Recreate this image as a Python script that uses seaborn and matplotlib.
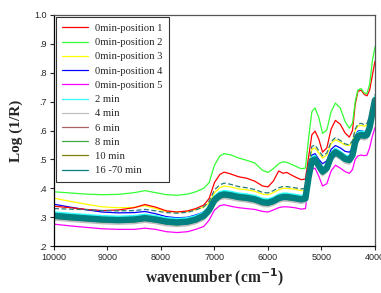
import numpy as np
import pandas as pd
import seaborn as sns
import matplotlib.pyplot as plt
from matplotlib.lines import Line2D

wavenumber = [10000, 9700, 9400, 9100, 8800, 8500, 8300, 8100, 7900, 7700,
              7500, 7350, 7200, 7100, 7000, 6900, 6820, 6700, 6550, 6400,
              6250, 6100, 6000, 5900, 5800, 5720, 5650, 5500, 5380, 5300,
              5240, 5180, 5120, 5050, 4980, 4900, 4820, 4740, 4650, 4560,
              4480, 4420, 4370, 4320, 4260, 4200, 4150, 4100, 4050, 4000]

pos1 = [.338, .333, .327, .323, .325, .333, .344, .335, .322, .318,
        .322, .330, .342, .365, .420, .448, .456, .450, .440, .435,
        .425, .408, .405, .425, .460, .452, .455, .440, .430, .432,
        .510, .585, .598, .570, .525, .540, .605, .635, .622, .592,
        .577, .600, .690, .735, .740, .725, .720, .740, .790, .840]
pos2 = [.388, .384, .380, .378, .379, .385, .392, .385, .378, .376,
        .380, .388, .400, .420, .480, .512, .520, .516, .505, .497,
        .488, .462, .455, .468, .485, .492, .490, .478, .468, .470,
        .575, .665, .678, .645, .590, .602, .665, .695, .678, .632,
        .608, .625, .700, .740, .745, .730, .728, .760, .840, .890]
pos3 = [.366, .355, .345, .336, .333, .334, .340, .330, .320, .318,
        .320, .326, .335, .350, .385, .402, .408, .405, .398, .395,
        .390, .380, .378, .385, .395, .400, .400, .397, .392, .395,
        .470, .535, .540, .522, .505, .515, .555, .568, .560, .550,
        .548, .560, .600, .615, .618, .615, .618, .640, .680, .713]
pos4 = [.345, .335, .326, .318, .315, .316, .320, .312, .302, .298,
        .300, .308, .318, .335, .370, .385, .390, .387, .380, .377,
        .372, .362, .360, .366, .377, .380, .380, .376, .372, .375,
        .450, .515, .520, .500, .485, .495, .535, .548, .540, .528,
        .525, .538, .580, .598, .600, .596, .600, .625, .670, .705]
pos5 = [.276, .270, .265, .260, .258, .258, .262, .258, .250, .247,
        .250, .258, .268, .290, .325, .340, .343, .338, .333, .330,
        .327, .320, .318, .325, .333, .336, .336, .333, .328, .330,
        .410, .465, .470, .442, .408, .416, .460, .480, .470, .458,
        .452, .465, .500, .512, .515, .513, .515, .540, .580, .610]
min2 = [.317, .312, .308, .304, .302, .304, .309, .304, .297, .294,
        .297, .304, .317, .337, .372, .387, .391, .388, .382, .379,
        .374, .364, .362, .368, .378, .382, .382, .378, .374, .377,
        .452, .507, .512, .490, .470, .482, .522, .537, .527, .514,
        .510, .527, .572, .592, .597, .594, .597, .622, .672, .717]
min4 = [.292, .287, .283, .279, .277, .279, .284, .279, .272, .269,
        .272, .279, .292, .312, .347, .362, .366, .363, .357, .354,
        .349, .339, .337, .343, .353, .357, .357, .353, .349, .352,
        .427, .482, .487, .465, .445, .457, .497, .512, .502, .489,
        .485, .502, .547, .567, .572, .569, .572, .597, .647, .692]
min6 = [.310, .305, .301, .297, .295, .297, .302, .297, .290, .287,
        .290, .297, .310, .330, .365, .380, .384, .381, .375, .372,
        .367, .357, .355, .361, .371, .375, .375, .371, .367, .370,
        .445, .500, .505, .483, .463, .475, .515, .530, .520, .507,
        .503, .520, .565, .585, .590, .587, .590, .615, .665, .710]
min8 = [.301, .296, .292, .288, .286, .288, .293, .288, .281, .278,
        .281, .288, .301, .321, .356, .371, .375, .372, .366, .363,
        .358, .348, .346, .352, .362, .366, .366, .362, .358, .361,
        .436, .491, .496, .474, .454, .466, .506, .521, .511, .498,
        .494, .511, .556, .576, .581, .578, .581, .606, .656, .701]
min10 = [.297, .292, .288, .284, .282, .284, .289, .284, .277, .274,
         .277, .284, .297, .317, .352, .367, .371, .368, .362, .359,
         .354, .344, .342, .348, .358, .362, .362, .358, .354, .357,
         .432, .487, .492, .470, .450, .462, .502, .517, .507, .494,
         .490, .507, .552, .572, .577, .574, .577, .602, .652, .697]
min16_70 = [.305, .300, .296, .292, .290, .292, .297, .292, .285, .282,
            .285, .292, .305, .325, .360, .375, .379, .376, .370, .367,
            .362, .352, .350, .356, .366, .370, .370, .366, .362, .365,
            .440, .495, .500, .478, .458, .470, .510, .525, .515, .502,
            .498, .515, .560, .580, .585, .582, .585, .610, .660, .705]
min16_70_upper = [.330, .328, .326, .323, .322, .323, .327, .322, .316, .314,
                  .317, .325, .336, .355, .395, .412, .418, .414, .406, .402,
                  .396, .386, .384, .392, .402, .406, .406, .402, .398, .400,
                  .480, .545, .550, .530, .512, .522, .562, .575, .566, .554,
                  .550, .565, .605, .622, .625, .620, .625, .650, .690, .725]

labels = ['0min-position 1', '0min-position 2', '0min-position 3', '0min-position 4',
          '0min-position 5', '2 min', '4 min', '6 min', '8 min', '10 min', '16 -70 min']
colors = ['#ff0000', '#33ff33', '#ffff00', '#0000ff', '#ff00ff', '#33ffff',
          '#c0c0c0', '#a86464', '#44aa44', '#808000', '#008080']

sns.set_style('ticks')
plt.rcParams['font.family'] = ['Liberation Sans', 'DejaVu Sans']

fig = plt.figure(figsize=(3.81, 2.93), dpi=100)
ax = fig.add_axes([0.1417, 0.160, 0.8425, 0.789])

x = np.array(wavenumber)
for y, c in [(pos3, colors[2]), (pos4, colors[3]), (pos1, colors[0]),
             (pos2, colors[1]), (pos5, colors[4])]:
    sns.lineplot(x=x, y=y, color=c, lw=0.9, ax=ax, sort=False)
sns.lineplot(x=x, y=min2, color=colors[5], lw=1.6, ax=ax, sort=False)
sns.lineplot(x=x, y=min4, color=colors[6], lw=1.6, ax=ax, sort=False)
sns.lineplot(x=x, y=min6, color=colors[7], lw=0.9, ax=ax, sort=False)
sns.lineplot(x=x, y=min8, color=colors[8], lw=0.9, ax=ax, sort=False)
sns.lineplot(x=x, y=min10, color=colors[9], lw=0.9, ax=ax, sort=False)
sns.lineplot(x=x, y=min16_70, color=colors[10], lw=4.6, ax=ax, sort=False)
ax.plot(x, min16_70_upper, color='#2a7a7a', lw=0.9, ls=(0, (4, 2)))

ax.set_xlim(10000, 4000)
ax.set_ylim(0.2, 1.0)
ax.set_xticks([10000, 9000, 8000, 7000, 6000, 5000, 4000])
ax.set_xticklabels(['10000', '9000', '8000', '7000', '6000', '5000', '4000'])
yt = [0.2, 0.3, 0.4, 0.5, 0.6, 0.7, 0.8, 0.9, 1.0]
ax.set_yticks(yt)
ax.set_yticklabels(['.2', '.3', '.4', '.5', '.6', '.7', '.8', '.9', '1.0'])
ax.tick_params(labelsize=6.5, length=3, width=0.8, direction='out', pad=2)
for s in ['left', 'bottom']:
    ax.spines[s].set_color('black')
    ax.spines[s].set_linewidth(0.9)
for s in ['top', 'right']:
    ax.spines[s].set_color('#555555')
    ax.spines[s].set_linewidth(0.9)

serif = ['Liberation Serif', 'DejaVu Serif']
ax.set_xlabel('wavenumber (cm$^{\\mathbf{-1}}$)', fontsize=11.2, fontweight='bold',
              family=serif, labelpad=3)
ax.set_ylabel('Log (1/R)', fontsize=11, fontweight='bold', family=serif, labelpad=8)

handles = [Line2D([], [], color=c, lw=0.9) for c in colors]
leg = ax.legend(handles, labels, loc='upper left', bbox_to_anchor=(0.006, 0.99),
                prop={'family': serif, 'size': 7.6}, frameon=True, fancybox=False,
                handlelength=2.4, handletextpad=0.7, labelspacing=0.46,
                borderpad=0.6, borderaxespad=0)
leg.get_frame().set_edgecolor('black')
leg.get_frame().set_linewidth(0.8)

fig.savefig('out.png', dpi=100)
